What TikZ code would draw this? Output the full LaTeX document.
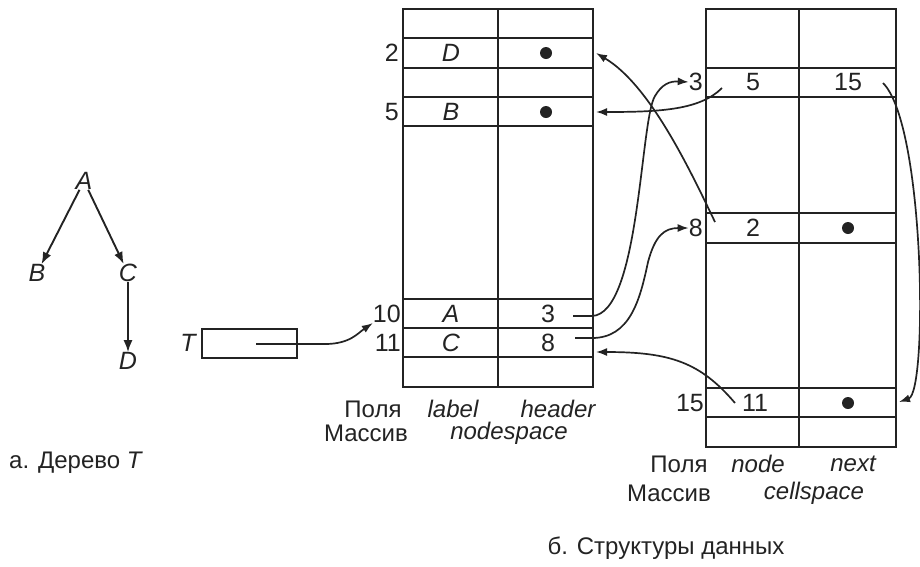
\documentclass[tikz,border=0pt]{standalone}
\usepackage{fontspec}
\setmainfont{Liberation Sans}
\usetikzlibrary{arrows.meta}
\definecolor{ink}{RGB}{35,35,35}
\begin{document}
\begin{tikzpicture}[x=1pt,y=-1pt,
  tbl/.style={line width=2.1pt, draw=ink},
  txt/.style={font=\fontsize{25}{28}\selectfont, text=ink, inner sep=0pt},
  itx/.style={font=\fontsize{25}{28}\selectfont\itshape, text=ink, inner sep=0pt},
  captxt/.style={font=\fontsize{24}{28}\selectfont, text=ink, inner sep=0pt},
  capit/.style={font=\fontsize{24}{28}\selectfont\itshape, text=ink, inner sep=0pt},
  ptr/.style={draw=ink, line width=1.7pt, -{Latex[length=11pt,width=8pt]}},
  tarrow/.style={draw=ink, line width=1.9pt, -{Latex[length=12pt,width=9pt]}},
  dot/.style={circle, fill=ink, inner sep=0pt, minimum size=12pt}
]
\useasboundingbox (0,0) rectangle (920,566);

% ---------- tree ----------
\node[itx] (tA) at (84,181) {A};
\node[itx] (tB) at (37,273) {B};
\node[itx] (tC) at (128,273) {C};
\node[itx] (tD) at (128,361) {D};
\draw[tarrow] (tA) -- (tB);
\draw[tarrow] (tA) -- (tC);
\draw[tarrow] (tC) -- (tD);
\node[captxt, anchor=west] (capa) at (9,463) {а. Дерево \textit{T}};

% ---------- T box ----------
\node[itx] (tT) at (188,343) {T};
\draw[tbl] (202,329) rectangle (297,358);
\coordinate (tstart) at (256,344);

% ---------- nodespace ----------
\draw[tbl] (403,9) rectangle (593,387);
\draw[tbl] (498,9) -- (498,387);
\foreach \y in {38,68,97,126,299,328,357} \draw[tbl] (403,\y) -- (593,\y);
\node[txt, anchor=east] (n2) at (399,53) {2};
\node[txt, anchor=east] (n5) at (399,112) {5};
\node[txt, anchor=east] (n10) at (401,314) {10};
\node[txt, anchor=east] (n11) at (401,343) {11};
\node[itx] (lD) at (451,53) {D};
\node[itx] (lB) at (451,112) {B};
\node[itx] (lA) at (451,314) {A};
\node[itx] (lC) at (451,343) {C};
\node[dot] (hD) at (546,53) {};
\node[dot] (hB) at (546,112) {};
\node[txt] (hA) at (548,314) {3};
\node[txt] (hC) at (548,343) {8};
\coordinate (nD) at (596,53);
\coordinate (nB) at (596,112);
\coordinate (nC) at (596,352);
\coordinate (s10) at (573,316);
\coordinate (s11) at (575,338);

\node[captxt] (f1) at (373,409) {Поля};
\node[capit] (f2) at (453,409) {label};
\node[capit] (f3) at (558,409) {header};
\node[captxt] (m1) at (366,433) {Массив};
\node[capit] (m2) at (509,433) {nodespace};

% ---------- cellspace ----------
\draw[tbl] (706,9) rectangle (896,447);
\draw[tbl] (799,9) -- (799,447);
\foreach \y in {68,97,213,243,388,417} \draw[tbl] (706,\y) -- (896,\y);
\node[txt, anchor=east] (c3) at (703,82) {3};
\node[txt, anchor=east] (c8) at (703,228) {8};
\node[txt, anchor=east] (c15) at (704,403) {15};
\node[txt] (k5) at (753,82) {5};
\node[txt] (x15) at (848,82) {15};
\node[txt] (k2) at (753,228) {2};
\node[dot] (x8) at (848,228) {};
\node[txt] (k11) at (755,403) {11};
\node[dot] (x11) at (848,403) {};
\coordinate (s5) at (722,88);
\coordinate (s2) at (715,222);
\coordinate (s15) at (883,83);
\coordinate (s11c) at (735,403);
\coordinate (e15) at (899,402);

\node[captxt] (g1) at (679,464) {Поля};
\node[capit] (g2) at (758,464) {node};
\node[capit] (g3) at (853,464) {next};
\node[captxt] (h1) at (669,493) {Массив};
\node[capit] (h2) at (814,493) {cellspace};
\node[captxt] (capb) at (666,548) {б. Структуры данных};

% ---------- pointers ----------
\draw[ptr] (tstart) -- (325,344) .. controls (350,344) and (358,333) .. (n10.south west);
\draw[ptr] (s10) -- (592,316) .. controls (640,314) and (640,120) .. (655,96)
   .. controls (662,84) and (670,81) .. (c3.west);
\draw[ptr] (s11) -- (592,338) .. controls (630,338) and (640,300) .. (648,262)
   .. controls (655,236) and (664,228) .. (c8.west);
\draw[ptr] (s5) .. controls (700,110) and (660,112) .. (nB);
\draw[ptr] (s2) .. controls (690,170) and (650,85) .. (nD);
\draw[ptr] (s15) .. controls (925,125) and (928,392) .. (e15);
\draw[ptr] (s11c) .. controls (700,362) and (670,352) .. (nC);
\end{tikzpicture}
\end{document}
